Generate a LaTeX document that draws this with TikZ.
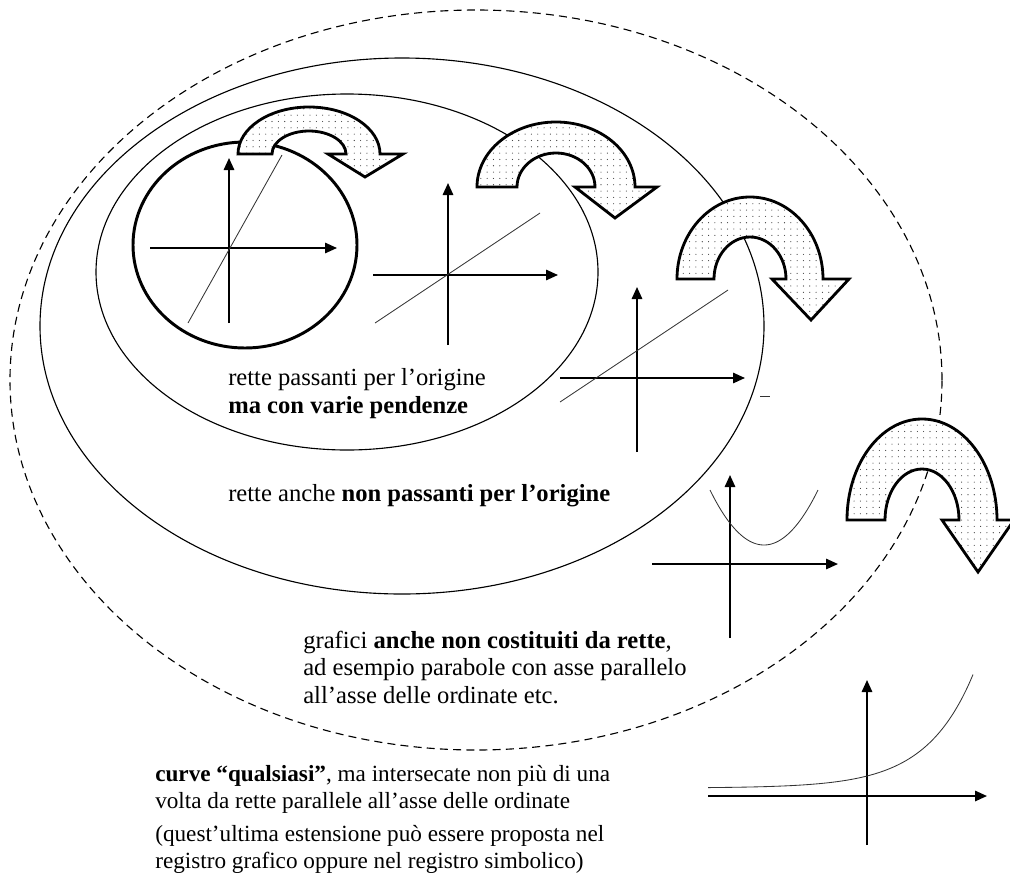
\documentclass[tikz,border=0pt]{standalone}
\usepackage{fontspec}
\setmainfont{Liberation Serif}
\usetikzlibrary{arrows.meta, patterns.meta}

\begin{document}
\begin{tikzpicture}[x=0.25mm, y=0.25mm,
    axis/.style={line width=1.3pt, -{Triangle[length=3mm, width=2.6mm]}},
    graph/.style={line width=0.6pt, black!80},
    ring/.style={line width=0.8pt},
    bendarrow/.style={line width=2pt, line join=miter, preaction={fill=white},
        pattern={Dots[distance=4.5pt, radius=0.4pt]}, pattern color=black!80},
    desc/.style={anchor=base west, align=left, inner sep=0pt,
        font=\fontsize{17.5}{19.5}\selectfont},
    note/.style={desc, font=\fontsize{16.5}{19.2}\selectfont}]
    \useasboundingbox (0,-887) rectangle (1010,0);

    % Nested sets
    \draw[ring, dash pattern=on 2mm off 1.3mm] (476,-380) ellipse [x radius=466, y radius=370];
    \draw[ring] (402,-326) ellipse [x radius=362, y radius=268];
    \draw[ring] (347,-272) ellipse [x radius=251, y radius=178];
    \draw[line width=2.1pt] (245,-245) ellipse [x radius=112, y radius=103];

    % Lines through the origin
    \draw[axis] (150,-248) -- (337,-248);
    \draw[axis] (229,-323) -- (229,-158);
    \draw[graph] (188,-323) -- (282,-155);

    % Other slope
    \draw[axis] (373,-275) -- (558,-275);
    \draw[axis] (448,-345) -- (448,-183);
    \draw[graph] (375,-323) -- (540,-213);

    % Line not through the origin
    \draw[axis] (560,-378) -- (745,-378);
    \draw[axis] (637,-452) -- (637,-287);
    \draw[graph] (560,-402) -- (728,-290);
    \draw[graph] (760,-396) -- (770,-396);

    % Parabola
    \draw[axis] (652,-564) -- (838,-564);
    \draw[axis] (730,-638) -- (730,-475);
    \draw[graph, domain=710:818, samples=50] plot (\x, {-545+0.01886*(\x-764)^2});

    % Any curve
    \draw[axis] (708,-796) -- (987,-796);
    \draw[axis] (867,-845) -- (867,-680);
    \draw[graph, domain=-159:106, samples=80, smooth] plot ({867+\x}, {-788+12*exp(0.0212*\x)});

    % Bent arrows
    \draw[bendarrow] (238,-154) arc [start angle=180, end angle=0, x radius=71, y radius=47]
        -- (403,-154) -- (365,-177) -- (328,-154) -- (346,-154)
        arc [start angle=0, end angle=180, x radius=37, y radius=23] -- cycle;
    \draw[bendarrow] (477,-187) arc [start angle=180, end angle=0, x radius=79, y radius=65]
        -- (657,-187) -- (615,-218) -- (575,-187) -- (595,-187)
        arc [start angle=0, end angle=180, x radius=39, y radius=34] -- cycle;
    \draw[bendarrow] (677,-279) arc [start angle=180, end angle=0, x radius=73, y radius=82]
        -- (849,-279) -- (811,-320) -- (772,-279) -- (786,-279)
        arc [start angle=0, end angle=180, x radius=36, y radius=42] -- cycle;
    \draw[bendarrow] (847,-520) arc [start angle=180, end angle=0, x radius=75, y radius=101]
        -- (1014,-520) -- (978,-572) -- (942,-520) -- (959,-520)
        arc [start angle=0, end angle=180, x radius=37, y radius=51] -- cycle;

    % Texts (base = last line)
    \node[desc] (slopes) at (228,-413) {rette passanti per l’origine\\\textbf{ma con varie pendenze}};
    \node[desc] (nonorig) at (228,-501) {rette anche \textbf{non passanti per l’origine}};
    \node[desc] (parab) at (303,-703) {grafici \textbf{anche non costituiti da rette},\\
        ad esempio parabole con asse parallelo\\all’asse delle ordinate etc.};
    \node[note] (anycurve) at (155,-808) {\textbf{curve “qualsiasi”}, ma intersecate non più di una\\
        volta da rette parallele all’asse delle ordinate};
    \node[note] (register) at (155,-868) {(quest’ultima estensione può essere proposta nel\\
        registro grafico oppure nel registro simbolico)};
\end{tikzpicture}
\end{document}
